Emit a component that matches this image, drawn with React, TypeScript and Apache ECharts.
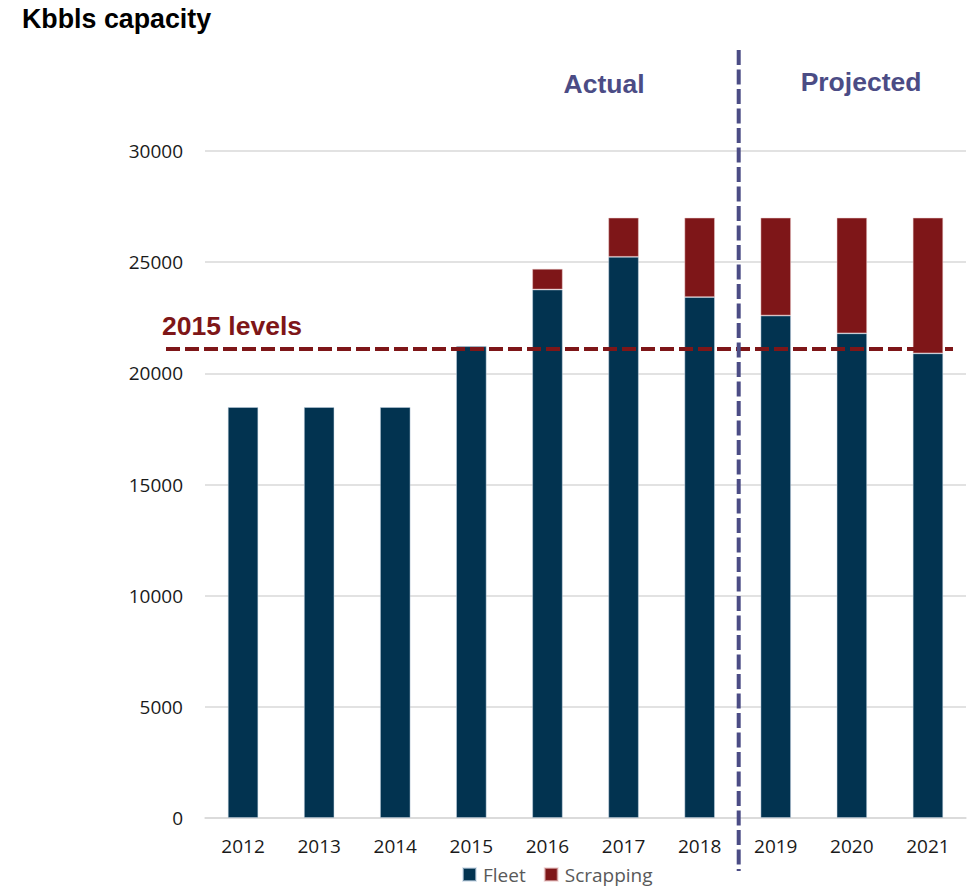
import React, { useEffect, useRef } from "react";
import * as echarts from "echarts";

const years = ["2012", "2013", "2014", "2015", "2016", "2017", "2018", "2019", "2020", "2021"];
const fleet = [18480, 18480, 18480, 21220, 23770, 25240, 23430, 22600, 21800, 20900];
const scrapping = [null, null, null, null, 930, 1760, 3570, 4400, 5200, 6100];
const level2015 = 21090;
const yMax = 30000;
const yInterval = 5000;

const FONT = "'Open Sans', sans-serif";
const BOLD = "'Liberation Sans', Arial, sans-serif";

export default function App() {
  const ref = useRef<HTMLDivElement>(null);
  useEffect(() => {
    if (!ref.current) return;
    const chart = echarts.init(ref.current, undefined, { renderer: "svg" });
    chart.setOption({
      animation: false,
      backgroundColor: "#ffffff",
      grid: { left: 205, right: 6, top: 151, bottom: 72, containLabel: false },
      legend: {
        data: ["Fleet", "Scrapping"],
        left: 457,
        top: 860,
        icon: "rect",
        itemWidth: 13,
        itemHeight: 13,
        itemGap: 18,
        textStyle: { fontFamily: FONT, fontSize: 19, color: "#595959", padding: [0, 0, 0, 2] },
      },
      xAxis: {
        type: "category",
        data: years,
        axisLine: { show: true, lineStyle: { color: "#d9d9d9", width: 1.5 } },
        axisTick: { show: false },
        axisLabel: { fontFamily: FONT, fontSize: 19, color: "#1a1a1a", margin: 18 },
      },
      yAxis: {
        type: "value",
        min: 0,
        max: yMax,
        interval: yInterval,
        axisLine: { show: false },
        axisTick: { show: false },
        axisLabel: {
          fontFamily: FONT,
          fontSize: 19,
          color: "#1a1a1a",
          margin: 22,
          formatter: (v: number) => String(v),
        },
        splitLine: { lineStyle: { color: "#d9d9d9", width: 1.5 } },
      },
      series: [
        {
          name: "Fleet",
          type: "bar",
          stack: "total",
          barWidth: "40%",
          data: fleet,
          itemStyle: { color: "#023350", borderColor: "rgba(200,215,230,0.6)", borderWidth: 0.8 },
        },
        {
          name: "Scrapping",
          type: "bar",
          stack: "total",
          barWidth: "40%",
          data: scrapping,
          itemStyle: { color: "#7e1618", borderColor: "rgba(235,200,200,0.6)", borderWidth: 0.8 },
        },
      ],
    });

    const yLine = chart.convertToPixel({ yAxisIndex: 0 }, level2015) as number;
    const x2018 = chart.convertToPixel({ xAxisIndex: 0 }, "2018") as number;
    const x2019 = chart.convertToPixel({ xAxisIndex: 0 }, "2019") as number;
    const xSep = (x2018 + x2019) / 2 + 1;

    chart.setOption({
      graphic: [
        {
          type: "text",
          left: 22,
          top: 5,
          style: { text: "Kbbls capacity", fontFamily: BOLD, fontWeight: "bold", fontSize: 26.8, fill: "#000000" },
        },
        {
          type: "line",
          shape: { x1: 166, y1: yLine, x2: 953, y2: yLine },
          style: { stroke: "#7e1618", lineWidth: 4, lineDash: [14, 5] },
          z: 10,
        },
        {
          type: "text",
          x: 162,
          y: 326,
          style: {
            text: "2015 levels",
            fontFamily: BOLD,
            fontWeight: "bold",
            fontSize: 26.5,
            fill: "#7e1618",
            verticalAlign: "middle",
            align: "left",
          },
        },
        {
          type: "line",
          shape: { x1: xSep, y1: 50, x2: xSep, y2: 871 },
          style: { stroke: "#4b4c85", lineWidth: 4, lineDash: [15, 4.5] },
          z: 11,
        },
        {
          type: "text",
          x: 604,
          y: 84,
          style: {
            text: "Actual",
            fontFamily: BOLD,
            fontWeight: "bold",
            fontSize: 26.5,
            fill: "#4b4c85",
            verticalAlign: "middle",
            align: "center",
          },
        },
        {
          type: "text",
          x: 861,
          y: 82,
          style: {
            text: "Projected",
            fontFamily: BOLD,
            fontWeight: "bold",
            fontSize: 26.5,
            fill: "#4b4c85",
            verticalAlign: "middle",
            align: "center",
          },
        },
      ],
    });

    return () => chart.dispose();
  }, []);
  return (
    <div
      ref={ref}
      style={{ position: "absolute", left: 0, top: 0, width: 972, height: 890 }}
    />
  );
}
